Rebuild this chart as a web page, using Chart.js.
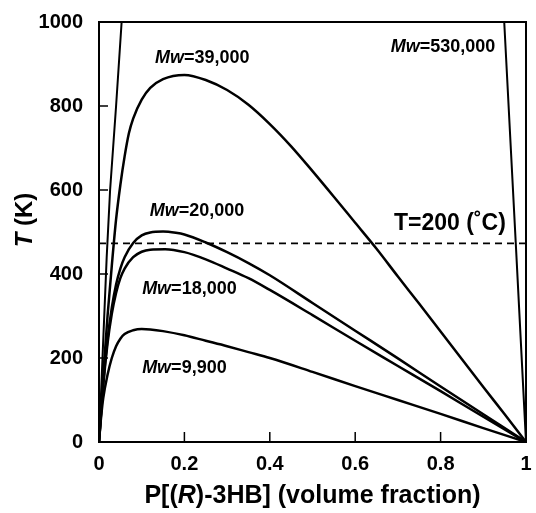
<!DOCTYPE html>
<html>
<head>
<meta charset="utf-8">
<script src="https://cdn.jsdelivr.net/npm/chart.js@4.4.0/dist/chart.umd.min.js"></script>
<style>
  html, body { margin: 0; padding: 0; background: #fff; }
  #wrap { width: 536px; height: 513px; }
</style>
</head>
<body>
<div id="wrap"><canvas id="out" width="536" height="513"></canvas></div>
<script>
// tick labels
const xTicks = [0, 0.2, 0.4, 0.6, 0.8, 1];
const yTicks = [0, 200, 400, 600, 800, 1000];

// Mw = 39,000
const phi39 = [0, 0.01, 0.02, 0.03, 0.04, 0.05, 0.06, 0.07, 0.08, 0.1, 0.12, 0.15, 0.2, 0.25, 0.3, 0.35, 0.4, 0.45, 0.5, 0.55, 0.6, 0.65, 0.7, 0.75, 0.8, 0.85, 0.9, 0.95, 1];
const t39   = [0, 160, 300, 420, 530, 612, 680, 735, 770, 815, 843, 864, 874, 862, 838, 803, 757, 704, 645, 584, 522, 460, 394, 329, 263, 197, 131, 66, 0];

// Mw = 20,000
const phi20 = [0, 0.01, 0.02, 0.03, 0.04, 0.05, 0.06, 0.08, 0.1, 0.12, 0.15, 0.18, 0.2, 0.25, 0.3, 0.35, 0.4, 0.5, 0.6, 0.7, 0.8, 0.9, 1];
const t20   = [0, 140, 245, 320, 375, 413, 440, 474, 492, 499, 501, 498, 494, 475, 452, 426, 397, 331, 265, 199, 132, 66, 0];

// Mw = 18,000
const phi18 = [0, 0.01, 0.02, 0.03, 0.04, 0.05, 0.06, 0.08, 0.1, 0.12, 0.155, 0.2, 0.25, 0.3, 0.35, 0.4, 0.5, 0.6, 0.7, 0.8, 0.9, 1];
const t18   = [0, 135, 235, 305, 355, 390, 413, 440, 453, 458, 459, 452, 435, 413, 390, 362, 302, 241, 181, 121, 60, 0];

// Mw = 9,900
const phi99 = [0, 0.005, 0.01, 0.02, 0.03, 0.04, 0.05, 0.06, 0.08, 0.1, 0.12, 0.15, 0.2, 0.25, 0.3, 0.35, 0.4, 0.5, 0.6, 0.7, 0.8, 0.9, 1];
const t99   = [0, 60, 105, 160, 200, 228, 246, 257, 266, 269, 268, 264, 254, 241, 228, 214, 200, 167, 133, 100, 67, 33, 0];

// Mw = 530,000 (both branches leave the top of the plot, null = gap)
const phi530 = [0, 0.009, 0.018, 0.026, 0.04, 0.053, 0.5, 0.949, 0.976, 1];
const t530   = [0, 220, 440, 600, 800, 1000, null, 1000, 474, 0];

// T = 200 C line
const phiRef = [0, 1];
const tRef   = [473, 473];

const fam = '"Liberation Sans", Arial, Helvetica, sans-serif';

function pts(xs, ys) {
  return xs.map((v, i) => ({ x: v, y: ys[i] }));
}

function curve(label, xs, ys) {
  return {
    label: label,
    data: pts(xs, ys),
    borderColor: "#000",
    borderWidth: 2.5,
    pointRadius: 0,
    fill: false,
    cubicInterpolationMode: "monotone",
    spanGaps: false
  };
}

// text labels: [parts, x value, y value, size]; parts = [text, italic?]
const notes = [
  [[["Mw", true], ["=39,000", false]], 0.131, 914, 18],
  [[["Mw", true], ["=530,000", false]], 0.683, 940, 18],
  [[["Mw", true], ["=20,000", false]], 0.119, 550, 18],
  [[["Mw", true], ["=18,000", false]], 0.101, 364, 18],
  [[["Mw", true], ["=9,900", false]], 0.101, 176, 18],
  [[["T=200 (˚C)", false]], 0.691, 521, 23]
];

function drawParts(ctx, parts, x, y, size, align) {
  let w = 0;
  parts.forEach(p => {
    ctx.font = (p[1] ? "italic " : "") + "bold " + size + "px " + fam;
    w += ctx.measureText(p[0]).width;
  });
  let cx = align === "center" ? x - w / 2 : x;
  parts.forEach(p => {
    ctx.font = (p[1] ? "italic " : "") + "bold " + size + "px " + fam;
    ctx.fillText(p[0], cx, y);
    cx += ctx.measureText(p[0]).width;
  });
}

const decor = {
  id: "decor",
  afterDatasetsDraw(chart) {
    const ctx = chart.ctx;
    const a = chart.chartArea;
    const sx = chart.scales.x, sy = chart.scales.y;
    ctx.save();
    ctx.strokeStyle = "#000";
    ctx.lineWidth = 2;
    ctx.strokeRect(a.left, a.top, a.right - a.left, a.bottom - a.top);
    ctx.lineWidth = 1.5;
    ctx.beginPath();
    yTicks.slice(1, -1).forEach(v => {
      const py = sy.getPixelForValue(v);
      ctx.moveTo(a.left, py); ctx.lineTo(a.left + 9, py);
    });
    xTicks.slice(1, -1).forEach(v => {
      const px = sx.getPixelForValue(v);
      ctx.moveTo(px, a.bottom); ctx.lineTo(px, a.bottom - 10);
    });
    ctx.stroke();

    ctx.fillStyle = "#000";
    ctx.textBaseline = "middle";
    ctx.textAlign = "left";
    notes.forEach(n => {
      drawParts(ctx, n[0], sx.getPixelForValue(n[1]), sy.getPixelForValue(n[2]), n[3], "left");
    });

    // axis titles
    drawParts(ctx, [["P[(", false], ["R", true], [")-3HB] (volume fraction)", false]],
      (a.left + a.right) / 2, 496, 25, "center");
    ctx.save();
    ctx.translate(25, 220);
    ctx.rotate(-Math.PI / 2);
    drawParts(ctx, [["T", true], [" (K)", false]], 0, 0, 24, "center");
    ctx.restore();
    ctx.restore();
  }
};

const tickFont = { family: fam, size: 20, weight: "bold" };

new Chart(document.getElementById("out").getContext("2d"), {
  type: "line",
  data: {
    datasets: [
      curve("Mw=39,000", phi39, t39),
      curve("Mw=20,000", phi20, t20),
      curve("Mw=18,000", phi18, t18),
      curve("Mw=9,900", phi99, t99),
      Object.assign(curve("Mw=530,000", phi530, t530), { cubicInterpolationMode: "default", tension: 0, borderWidth: 2 }),
      {
        label: "T=200 (˚C)",
        data: pts(phiRef, tRef),
        borderColor: "#000",
        borderWidth: 1.6,
        borderDash: [7, 5],
        pointRadius: 0,
        tension: 0
      }
    ]
  },
  options: {
    responsive: false,
    animation: false,
    layout: { padding: { left: 0, right: 10, top: 22, bottom: 0 } },
    plugins: { legend: { display: false }, tooltip: { enabled: false } },
    scales: {
      x: {
        type: "linear",
        min: 0,
        max: 1,
        afterBuildTicks: s => { s.ticks = xTicks.map(v => ({ value: v })); },
        afterFit: s => { s.height = 71; s.paddingLeft = 0; s.paddingRight = 0; },
        grid: { display: false, drawTicks: false },
        border: { display: false },
        ticks: { font: tickFont, color: "#000", padding: 10, maxRotation: 0,
                 callback: v => String(v) }
      },
      y: {
        type: "linear",
        min: 0,
        max: 1000,
        afterBuildTicks: s => { s.ticks = yTicks.map(v => ({ value: v })); },
        afterFit: s => { s.width = 99; s.paddingTop = 0; s.paddingBottom = 0; },
        grid: { display: false, drawTicks: false },
        border: { display: false },
        ticks: { font: tickFont, color: "#000", padding: 16, callback: v => String(v) }
      }
    }
  },
  plugins: [decor]
});
</script>
</body>
</html>
